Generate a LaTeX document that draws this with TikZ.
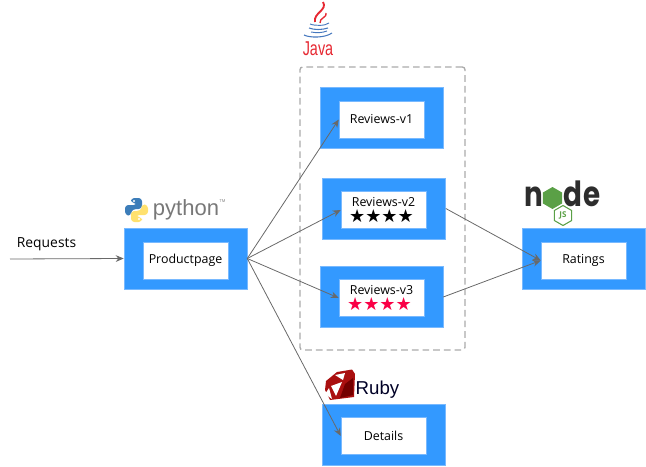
\documentclass[tikz,border=0pt]{standalone}
\usepackage{fontspec}
\setmainfont{Open Sans}
\newfontfamily\starfont{DejaVu Sans}
\newfontfamily\logofont{Liberation Sans}
\newfontfamily\nodefont{Poppins}
\usepackage{xcolor}
\usetikzlibrary{shapes.geometric, arrows.meta, positioning}
\definecolor{boxblue}{RGB}{51, 153, 255}
\definecolor{boxedge}{RGB}{120, 185, 255}
\definecolor{arrowgray}{RGB}{105, 105, 105}
\definecolor{dashgray}{RGB}{170, 170, 170}
\definecolor{starred}{RGB}{250, 0, 70}
\definecolor{javared}{RGB}{230, 40, 50}
\definecolor{javablue}{RGB}{70, 120, 190}
\definecolor{pyblue}{RGB}{60, 125, 185}
\definecolor{pyyellow}{RGB}{255, 225, 110}
\definecolor{pygray}{RGB}{120, 120, 120}
\definecolor{nodedark}{RGB}{45, 45, 45}
\definecolor{nodegreen}{RGB}{90, 160, 70}
\definecolor{rubyred}{RGB}{170, 15, 15}
\newcommand{\stars}{\starfont\fontsize{13.5}{13.5}\selectfont ★★★★\hspace*{3pt}}
\tikzstyle{service} = [
    rectangle,
    minimum width=92.25pt,
    minimum height=45.75pt,
    draw=boxedge,
    fill=boxblue
]
\tikzstyle{label} = [
    rectangle,
    minimum width=63.75pt,
    minimum height=27.75pt,
    inner sep=0pt,
    text centered,
    align=center,
    draw=boxedge,
    fill=white,
    font=\fontsize{9.3}{12}\selectfont
]
\tikzstyle{arrow} = [
    -{Stealth[length=6pt,width=5pt]},
    color=arrowgray,
    line width=0.6pt
]
\tikzstyle{nodeletter} = [
    inner sep=0pt,
    text=nodedark,
    xscale=0.8,
    font=\nodefont\bfseries\fontsize{26}{26}\selectfont
]
\tikzstyle{hexagon} = [
    regular polygon,
    regular polygon sides=6,
    shape border rotate=30,
    inner sep=0pt
]
\begin{document}
\begin{tikzpicture}[x=0.75pt, y=-0.75pt]
        \useasboundingbox (0,0) rectangle (646,467);

        % Reviews group
        \node[draw=dashgray, dash pattern=on 5pt off 3pt, line width=1pt, rounded corners=2pt, minimum width=123.75pt, minimum height=212.25pt] (group) at (382.5,208.5) {};

        % Services
        \node[service] (prodbox) at (185.5,258.5) {};
        \node[label] (prod) at (185.5,260.5) {Productpage};
        \node[service] (v1box) at (381.5,117.5) {};
        \node[label] (v1) at (381.5,119.5) {Reviews-v1};
        \node[service] (v2box) at (384,208.5) {};
        \node[label] (v2) at (383.5,210) {Reviews-v2\\[0.5pt]{\stars}};
        \node[service] (v3box) at (381.5,297) {};
        \node[label] (v3) at (381.5,298) {Reviews-v3\\[0.5pt]{\color{starred}\stars}};
        \node[service] (ratingsbox) at (584,258.5) {};
        \node[label] (ratings) at (583.5,260.5) {Ratings};
        \node[service] (detailsbox) at (384,434.5) {};
        \node[label] (details) at (383.5,436) {Details};

        % Requests
        \coordinate (start) at (10,259);
        \node[font=\fontsize{10.4}{12}\selectfont, inner sep=0pt] (requests) at (46.5,244.5) {Requests};
        \draw[arrow] (start) -- (prodbox.west);

        % Arrows from productpage
        \draw[arrow] (prodbox.east) -- (v1.west);
        \draw[arrow] (prodbox.east) -- (v2.west);
        \draw[arrow] (prodbox.east) -- (v3.west);
        \draw[arrow] (prodbox.east) -- (details.west);

        % Arrows to ratings
        \draw[arrow] (v2box.east) -- (ratings.west);
        \draw[arrow] (v3box.east) -- (ratings.west);

        % Java logo
        \draw[javared, line width=1.4pt] (323,2) .. controls (328,10) and (313,13) .. (315,22);
        \draw[javared, line width=1pt] (326,13) .. controls (328,17) and (319,18) .. (320,23);
        \draw[javablue, line width=0.7pt] (310,24) .. controls (315,26) and (325,26) .. (329,23);
        \draw[javablue, line width=0.8pt] (309,28) .. controls (314,30) and (322,30) .. (328,28);
        \draw[javablue, line width=0.7pt] (311,32) .. controls (316,33) and (322,33) .. (327,31);
        \draw[javablue, line width=0.8pt] (304,35) .. controls (310,38) and (325,38) .. (332,33);
        \node[inner sep=0pt, text=javared, font=\logofont\fontsize{15}{15}\selectfont, xscale=0.72] (java) at (318,48.5) {Java};

        % Python logo
        \fill[pyblue, rounded corners=2.5pt] (131,198) -- (142,198) -- (142,209) -- (133,209) -- (131,212) -- (131,216) -- (125,215) -- (125,205) -- (137,205) -- (137,203) -- (131,203) -- cycle;
        \fill[pyyellow, rounded corners=2.5pt] (142,222) -- (131,222) -- (131,211) -- (140,211) -- (142,208) -- (142,204) -- (148,205) -- (148,215) -- (136,215) -- (136,217) -- (142,217) -- cycle;
        \fill[white] (134,201) circle (0.9pt);
        \fill[white] (139,219) circle (0.9pt);
        \node[inner sep=0pt, text=pygray, font=\logofont\fontsize{16.5}{16.5}\selectfont] (python) at (186,209.5) {python};
        \node[inner sep=0pt, text=pygray, font=\fontsize{3}{3}\selectfont] (tm) at (222.5,201) {TM};

        % Node logo
        \node[nodeletter, anchor=base] (noden) at (534,206.5) {n};
        \node[hexagon, fill=nodegreen, minimum size=16.5pt] (nodeo) at (552.5,198) {};
        \node[nodeletter, anchor=base] (noded) at (573,206.5) {d};
        \node[nodeletter, anchor=base] (nodee) at (592,206.5) {e};
        \node[hexagon, draw=nodegreen, line width=0.8pt, minimum size=15pt, text=nodegreen, font=\fontsize{6}{6}\selectfont\bfseries] (nodejs) at (563,215.5) {JS};

        % Ruby logo
        \fill[rubyred] (337,372) -- (352,369.5) -- (355,374) -- (354,397) -- (330,400) -- (325,390) -- (326,381) -- cycle;
        \fill[white] (331,386) -- (342,382) -- (336,396) -- cycle;
        \fill[white] (335,375) -- (345,373) -- (343,380) -- cycle;
        \fill[white] (325,394) -- (329,388) -- (332,399) -- cycle;
        \fill[red!45!black] (345,384) -- (353,378) -- (353,395) -- (340,398) -- cycle;
        \node[inner sep=0pt, text=black!85!blue, font=\logofont\fontsize{14}{14}\selectfont] (ruby) at (377.5,389.5) {Ruby};
    \end{tikzpicture}
\end{document}
